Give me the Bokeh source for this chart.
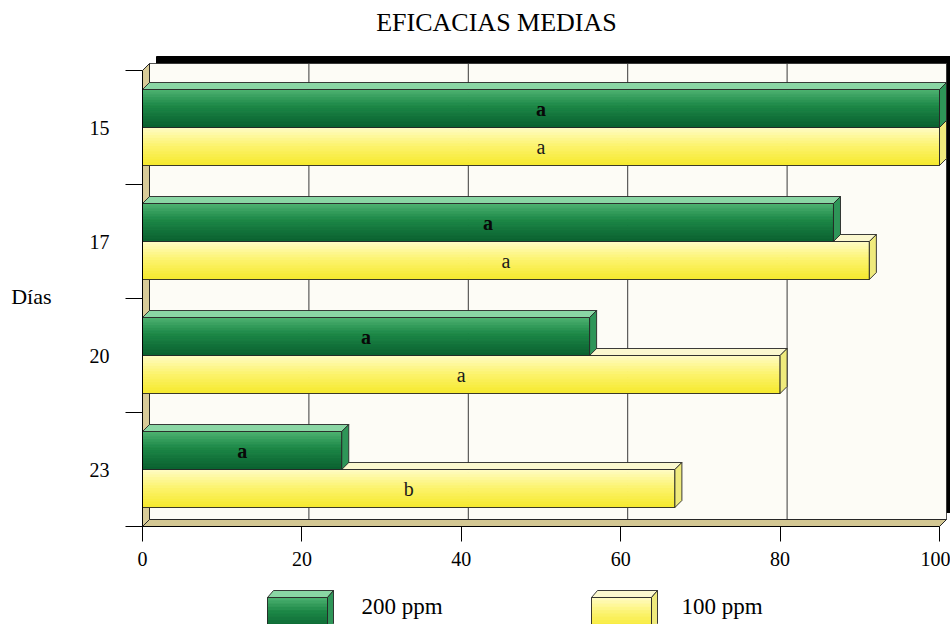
from bokeh.plotting import figure
from bokeh.models import Range1d, FixedTicker, ColumnDataSource
from bokeh.layouts import column
from bokeh.embed import file_html
from bokeh.resources import INLINE
from bokeh.core.properties import value

# ---- data -------------------------------------------------------------
days = ["15", "17", "20", "23"]
eff_200 = [100.0, 86.7, 56.1, 25.0]
eff_100 = [100.0, 91.2, 80.0, 66.8]
letters_200 = ["a", "a", "a", "a"]
letters_100 = ["a", "a", "a", "b"]
x_ticks = [0, 20, 40, 60, 80, 100]
series_names = ["200 ppm", "100 ppm"]
chart_title = "EFICACIAS MEDIAS"
y_title = "Días"

FONT = "Liberation Serif"

# ---- geometry (pixels) -------------------------------------------------
W, H_MAIN, H_LEG = 950, 586, 38
LEFT, BOTTOM = 142, 60
FRAME_W = W - LEFT
FRAME_H = H_MAIN - BOTTOM
PX_PER_X = 7.97
PX_PER_SLOT = 114.0
DEPTH = 7.0
BAR_PX = 38.0

n = len(days)
x_end = FRAME_W / PX_PER_X
y_end = FRAME_H / PX_PER_SLOT
dx = DEPTH / PX_PER_X
dy = DEPTH / PX_PER_SLOT
bar_h = BAR_PX / PX_PER_SLOT

GREEN_STOPS = [(0.0, "#4fb473"), (0.45, "#1c8746"), (1.0, "#0a6130")]
YELLOW_STOPS = [(0.0, "#fffcc8"), (0.5, "#fcf36c"), (1.0, "#f6e92e")]
GREEN_TOP, GREEN_SIDE = "#8ad6a4", "#2e9558"
YELLOW_TOP, YELLOW_SIDE = "#fbf8cf", "#efea7c"
EDGE = "#262626"


def _hex(c):
    c = c.lstrip("#")
    return [int(c[i:i + 2], 16) for i in (0, 2, 4)]


def shade(stops, t):
    for (t0, c0), (t1, c1) in zip(stops[:-1], stops[1:]):
        if t <= t1:
            u = (t - t0) / (t1 - t0) if t1 > t0 else 0.0
            a, b = _hex(c0), _hex(c1)
            return "#%02x%02x%02x" % tuple(round(a[k] + (b[k] - a[k]) * u) for k in range(3))
    return stops[-1][1]


def gradient_strips(x0, x1, y_top, y_bot, stops, steps=14):
    left, right, top, bottom, color = [], [], [], [], []
    for k in range(steps):
        t0 = y_top + (y_bot - y_top) * k / steps
        t1 = y_top + (y_bot - y_top) * (k + 1) / steps
        left.append(x0)
        right.append(x1)
        top.append(t0)
        bottom.append(t1)
        color.append(shade(stops, (k + 0.5) / steps))
    return dict(left=left, right=right, top=top, bottom=bottom, color=color)


# ---- main chart --------------------------------------------------------
p = figure(width=W, height=H_MAIN, x_range=Range1d(0, x_end), y_range=Range1d(0, y_end),
           output_backend="svg", toolbar_location=None, title=None,
           min_border_left=LEFT, min_border_right=0, min_border_top=0,
           min_border_bottom=BOTTOM)
p.outline_line_color = None
p.xgrid.visible = False
p.ygrid.visible = False
p.background_fill_color = "white"
p.border_fill_color = "white"

# drop shadow and back wall
p.quad(left=[2 * dx], right=[100 + 2 * dx], bottom=[2 * dy], top=[n + 2 * dy],
       fill_color="black", line_color="black")
p.quad(left=[dx], right=[100 + dx], bottom=[dy], top=[n + dy],
       fill_color="#fdfcf6", line_color=EDGE, line_width=0.8)

# gridlines on the back wall
grid_x = [t + dx for t in x_ticks[1:-1]]
p.segment(x0=grid_x, x1=grid_x, y0=[dy] * len(grid_x), y1=[n + dy] * len(grid_x),
          line_color="#3a3a3a", line_width=1)

# left wall and floor
p.patch([0, dx, dx, 0], [0, dy, n + dy, n], fill_color="#d8cb98", line_color=EDGE, line_width=1)
p.patch([0, 100, 100 + dx, dx], [0, 0, dy, dy], fill_color="#d3c793", line_color=EDGE, line_width=1)

centers = [n - 0.5 - i for i in range(n)]

for i in range(n):
    c = centers[i]
    for vals, letters, stops, top_c, side_c, y0, y1, tcolor, weight in (
        (eff_100, letters_100, YELLOW_STOPS, YELLOW_TOP, YELLOW_SIDE, c - bar_h, c, "#1a1a1a", "normal"),
        (eff_200, letters_200, GREEN_STOPS, GREEN_TOP, GREEN_SIDE, c, c + bar_h, "#080808", "bold"),
    ):
        v = vals[i]
        # front face with vertical shading
        src = ColumnDataSource(gradient_strips(0, v, y1, y0, stops))
        p.quad(left="left", right="right", top="top", bottom="bottom", source=src,
               fill_color="color", line_color="color", line_width=1)
        p.quad(left=[0], right=[v], top=[y1], bottom=[y0], fill_color=None,
               line_color=EDGE, line_width=0.9)
        # top face
        p.patch([0, v, v + dx, dx], [y1, y1, y1 + dy, y1 + dy], fill_color=top_c,
                line_color=EDGE, line_width=0.9)
        # right side face
        p.patch([v, v + dx, v + dx, v], [y0, y0 + dy, y1 + dy, y1], fill_color=side_c,
                line_color=EDGE, line_width=0.9)
        # significance letter
        p.text(x=[v / 2], y=[(y0 + y1) / 2], text=[letters[i]], text_font=value(FONT),
               text_font_size="20px", text_align="center", text_baseline="middle",
               text_color=tcolor, text_font_style=weight)

# chart title
p.text(x=[(496 - LEFT) / PX_PER_X], y=[(FRAME_H - 22) / PX_PER_SLOT], text=[chart_title],
       text_font=value(FONT), text_font_size="26px", text_align="center",
       text_baseline="middle", text_color="black")

# x axis
xa = p.xaxis[0]
xa.ticker = FixedTicker(ticks=x_ticks, minor_ticks=[])
xa.bounds = (0, 100)
xa.major_tick_out = 15
xa.major_tick_in = 0
xa.minor_tick_out = 0
xa.minor_tick_in = 0
xa.major_label_standoff = 10
xa.major_label_text_font = FONT
xa.major_label_text_font_size = "20px"
xa.major_label_text_color = "black"
xa.axis_line_color = "black"
xa.major_tick_line_color = "black"

# y axis: labels at category centres, ticks at category boundaries
ya = p.yaxis[0]
ya.ticker = FixedTicker(ticks=centers, minor_ticks=list(range(n + 1)))
ya.major_label_overrides = {centers[i]: days[i] for i in range(n)}
ya.bounds = (0, n)
ya.major_tick_out = 0
ya.major_tick_in = 0
ya.minor_tick_out = 17
ya.minor_tick_in = 0
ya.minor_tick_line_color = "black"
ya.major_label_standoff = 16
ya.major_label_text_font = FONT
ya.major_label_text_font_size = "20px"
ya.major_label_text_color = "black"
# two leading blank lines drop the label to the middle of the category axis
ya.axis_label = "\n\n" + y_title
ya.axis_label_orientation = "horizontal"
ya.axis_label_standoff = 35
ya.axis_label_text_font = FONT
ya.axis_label_text_font_style = "normal"
ya.axis_label_text_font_size = "22px"
ya.axis_label_text_line_height = 1.32
ya.axis_label_text_color = "black"
ya.axis_line_color = "black"

# ---- legend strip (x in page pixels, aligned with the main frame) -----
lg = figure(width=W, height=H_LEG, x_range=Range1d(LEFT, W), y_range=Range1d(H_LEG, 0),
            output_backend="svg", toolbar_location=None, title=None,
            min_border=0, min_border_left=LEFT, min_border_right=0,
            min_border_top=0, min_border_bottom=0)
lg.axis.visible = False
lg.xgrid.visible = False
lg.ygrid.visible = False
lg.outline_line_color = None

swatches = [(267, GREEN_STOPS, GREEN_TOP, GREEN_SIDE, 361),
            (591, YELLOW_STOPS, YELLOW_TOP, YELLOW_SIDE, 681)]
sw_w, sw_d, sw_top, sw_bot = 60, 6, 11, 44
for (x0, stops, top_c, side_c, tx), name in zip(swatches, series_names):
    lg.quad(left="left", right="right", top="top", bottom="bottom",
            source=ColumnDataSource(gradient_strips(x0, x0 + sw_w, sw_top, sw_bot, stops, 10)),
            fill_color="color", line_color="color", line_width=1)
    lg.quad(left=[x0], right=[x0 + sw_w], top=[sw_top], bottom=[sw_bot], fill_color=None,
            line_color=EDGE, line_width=0.9)
    lg.patch([x0, x0 + sw_w, x0 + sw_w + sw_d, x0 + sw_d],
             [sw_top, sw_top, sw_top - 7, sw_top - 7], fill_color=top_c, line_color=EDGE, line_width=0.9)
    lg.patch([x0 + sw_w, x0 + sw_w + sw_d, x0 + sw_w + sw_d, x0 + sw_w],
             [sw_top, sw_top - 7, sw_bot - 7, sw_bot], fill_color=side_c, line_color=EDGE, line_width=0.9)
    lg.text(x=[tx], y=[20], text=[name], text_font=value(FONT), text_font_size="23px",
            text_align="left", text_baseline="middle", text_color="black")

layout = column(p, lg, spacing=0)
open("out.html", "w").write(file_html(layout, INLINE))
